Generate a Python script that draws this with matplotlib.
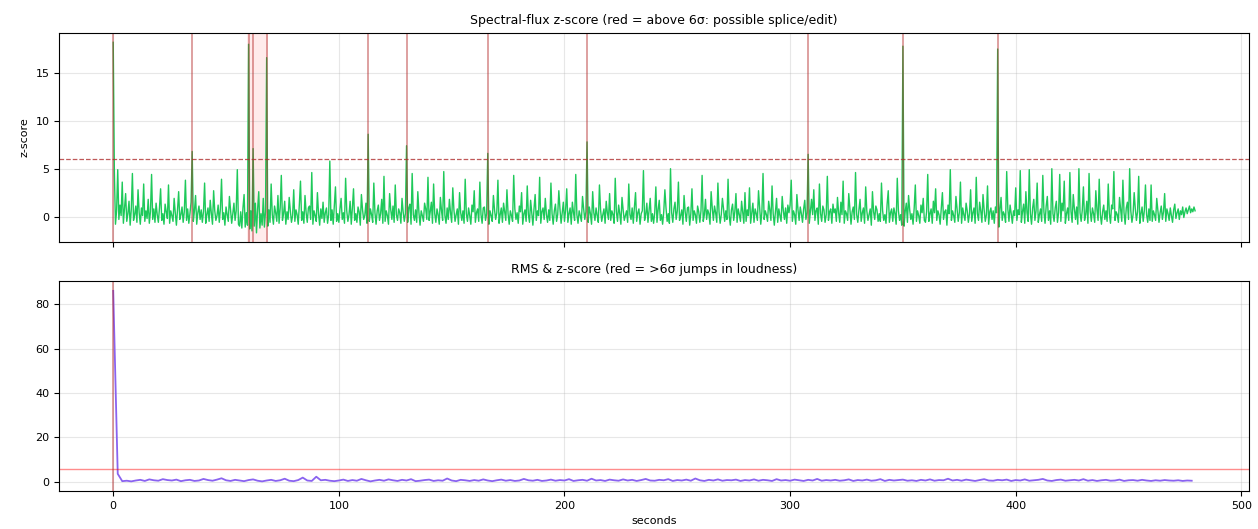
#!/usr/bin/env python3
import numpy as np
import matplotlib
matplotlib.use('Agg')
import matplotlib.pyplot as plt

# spectral-flux z-score, one value every 0.5 s (0..479.5 s), 20 s per row
flux_z = [
    18.2, 4.7, -0.8, 0.6, 4.9, -0.3, 1.2, 0.1, 3.6, -0.7, 0.8, 2.4, -0.5, 0.3, 1.6, -0.9, 0.7, 4.5, -0.4, 0.2,
    1.1, -0.6, 2.8, 0.4, -0.8, 0.9, 0.1, 3.4, -0.5, 0.6, -0.2, 1.8, -0.7, 0.5, 4.4, -0.3, 0.8, -0.6, 1.4, 0.2,
    -0.6, 0.9, 2.9, -0.4, 0.3, -0.8, 1.3, 0.5, -0.2, 3.3, -0.7, 0.6, 0.1, -0.5, 1.9, 0.4, -0.9, 0.7, 2.6, -0.3,
    0.2, 1.0, -0.6, 0.5, 3.8, -0.4, 0.8, -0.7, 0.3, 1.5, 6.8, -0.5, 0.6, 2.2, -0.8, 0.4, 1.1, -0.3, 0.7, -0.6,
    0.5, 3.5, -0.7, 0.2, 0.9, -0.5, 1.7, 0.3, -0.8, 2.7, 0.6, -0.4, 0.1, 1.2, -0.6, 0.8, 3.9, -0.3, 0.4, -0.9,
    1.0, 0.2, -0.5, 2.1, 0.7, -0.7, 0.3, 1.4, -0.4, 0.6, 4.9, -0.8, -1.0, 0.5, -1.2, 0.9, 2.3, -1.1, 0.4, -0.9,
    18.0, -1.3, 0.6, -1.5, 7.1, -1.0, 1.4, -1.7, 0.8, 2.6, -1.2, 0.3, -0.9, 1.9, -1.1, 0.5, 16.6, -1.0, 0.7, -0.6,
    3.4, 0.2, -0.8, 1.1, 0.4, -0.5, 2.2, -0.7, 0.9, 4.3, -0.4, 0.3, 1.6, -0.8, 0.5, -0.3, 2.0, 0.6, -0.6, 0.1,
    2.8, -0.5, 0.7, 0.2, -0.8, 1.3, 3.7, -0.4, 0.5, -0.7, 2.2, 0.4, -0.6, 0.9, 1.1, -0.3, 4.6, -0.8, 0.6, 0.1,
    -0.5, 2.5, 0.3, -0.9, 0.8, -0.2, 1.5, -0.6, 0.4, 0.9, -0.7, 0.2, 5.8, -0.4, 0.7, -0.8, 1.2, 3.1, -0.5, 0.3,
    -0.6, 0.8, 1.9, -0.3, 0.4, -0.7, 4.0, 0.6, -0.5, 0.2, 1.6, -0.8, 0.9, 2.9, -0.4, 0.3, -0.6, 1.0, 0.5, -0.9,
    2.3, 0.7, -0.3, 0.1, 1.4, -0.7, 8.6, -0.5, 0.8, 0.2, -0.6, 3.5, 0.4, -0.8, 0.6, 1.2, -0.4, 0.3, 1.8, -0.7,
    4.2, -0.5, 0.6, 0.1, -0.8, 2.4, 0.7, -0.3, 1.1, -0.6, 3.3, 0.2, -0.4, 0.8, 0.4, -0.7, 1.9, 0.5, -0.5, 0.3,
    7.4, -0.6, 0.9, 1.3, -0.8, 4.5, 0.2, -0.4, 0.7, -0.6, 2.6, 0.4, -0.9, 0.6, 0.1, -0.5, 1.4, 0.8, -0.3, 4.1,
    -0.4, 0.5, 1.5, -0.7, 3.4, 0.3, -0.6, 0.8, 0.2, -0.8, 2.0, 0.6, -0.4, 4.7, 0.1, -0.7, 0.9, -0.3, 1.8, 0.4,
    -0.6, 3.0, 0.7, -0.5, 0.2, 0.8, -0.8, 2.5, 0.4, -0.4, 0.6, -0.7, 3.9, 0.3, -0.5, 0.9, 0.1, -0.8, 1.2, 0.5,
    2.7, -0.6, 0.4, 0.8, -0.5, 3.6, 0.2, -0.7, 0.9, 1.0, -0.4, 0.3, 6.6, -0.8, 0.6, 0.1, -0.5, 2.2, 0.7, -0.3,
    0.4, 3.8, -0.7, 0.2, 0.9, -0.6, 1.4, 0.5, -0.4, 2.8, 0.3, -0.8, 0.6, 0.1, -0.5, 4.3, 0.8, -0.3, 0.4, -0.7,
    1.1, 0.5, 2.5, -0.8, 0.3, 0.7, -0.5, 3.2, 0.2, -0.6, 1.7, 0.4, -0.9, 0.8, 2.3, -0.4, 0.6, 0.1, 4.1, -0.7,
    0.5, 0.9, -0.3, 1.9, 0.2, -0.6, 0.7, -0.4, 3.5, 0.3, -0.8, 0.6, 1.3, -0.5, 0.2, 2.7, 0.8, -0.7, 0.4, 1.5,
    -0.5, 0.7, 2.9, -0.6, 0.3, 0.9, -0.8, 1.5, 0.4, -0.4, 4.4, 0.2, -0.7, 0.6, 0.1, -0.5, 2.1, 0.8, -0.3, 0.5,
    7.8, -0.6, 1.0, 0.3, -0.8, 2.6, 0.4, -0.4, 0.9, 0.1, -0.6, 3.3, 0.7, -0.5, 0.2, 0.8, -0.7, 1.6, 0.4, -0.3,
    2.4, -0.4, 0.6, 0.2, -0.7, 4.0, 0.5, -0.5, 1.2, 0.3, -0.8, 2.0, 0.7, -0.4, 0.1, 0.6, -0.6, 3.4, 0.2, -0.3,
    0.9, -0.7, 1.0, 2.5, -0.5, 0.4, 0.8, -0.8, 0.3, 0.6, 4.8, -0.4, 0.2, 1.4, -0.6, 0.7, 1.9, -0.5, 0.3, -0.7,
    0.4, 3.1, -0.6, 0.7, 1.7, -0.4, 0.2, -0.8, 0.5, 2.8, 0.9, -0.5, 0.3, -0.7, 5.0, 0.4, -0.6, 0.8, 1.5, -0.3,
    0.6, 3.6, -0.4, 0.1, 0.7, -0.8, 2.2, 0.5, -0.5, 0.9, 1.0, -0.9, 0.3, 2.9, -0.4, 0.6, 0.2, -0.7, 1.1, 0.5,
    -0.6, 0.6, 4.3, -0.5, 0.2, 1.8, -0.3, 0.7, 0.3, -0.8, 2.6, 0.9, -0.4, 1.1, 0.4, -0.6, 3.5, 0.5, -0.7, 0.2,
    1.9, 0.8, -0.5, 0.6, -0.3, 3.9, 0.1, -0.9, 0.7, 1.3, -0.4, 0.5, 2.4, -0.6, 0.8, 0.2, -0.5, 1.6, 0.4, -0.7,
    2.5, -0.5, 0.7, 0.1, 3.0, -0.7, 0.4, 1.4, -0.6, 0.8, 0.3, -0.4, 2.7, 0.9, -0.8, 0.5, 4.5, -0.3, 0.6, 0.2,
    -0.5, 1.6, 0.7, -0.4, 3.2, 0.3, -0.9, 0.5, 1.9, -0.6, 0.8, 0.1, -0.5, 2.1, 0.6, -0.3, 0.9, -0.7, 1.2, 0.4,
    1.2, 3.8, -0.5, 0.6, 0.2, -0.8, 2.3, 0.7, -0.4, 1.0, 0.3, -0.6, 0.8, 1.7, -0.3, 0.4, 6.5, -0.7, 0.5, 1.8,
    0.2, 2.8, -0.4, 0.6, 0.9, -0.8, 3.4, 0.3, -0.5, 1.1, 0.7, -0.6, 0.2, 4.2, -0.4, 0.5, 0.8, -0.7, 1.3, 0.4,
    0.8, -0.5, 2.0, 0.4, -0.6, 1.5, 0.2, 3.7, -0.7, 0.6, 0.3, -0.4, 2.4, 0.8, -0.8, 0.5, 1.0, -0.3, 4.6, 0.2,
    -0.6, 0.7, 1.8, -0.5, 0.4, 0.9, -0.7, 3.1, 0.6, -0.4, 0.2, 0.8, -0.9, 2.6, 0.5, -0.3, 1.1, 0.7, -0.5, 0.3,
    -0.5, 3.5, 0.6, -0.4, 0.2, -0.7, 1.3, 2.7, -0.6, 0.4, 0.8, -0.5, 0.9, 0.3, -0.8, 4.0, 0.6, -0.4, 0.2, -0.9,
    17.8, -1.0, 0.5, 1.4, -0.6, 2.2, 0.7, -0.3, 0.3, -0.8, 0.9, 3.3, -0.5, 0.6, 0.1, -0.7, 1.2, 0.4, 1.9, -0.4,
    -0.6, 0.5, 4.4, -0.5, 0.3, 0.8, -0.7, 1.6, 0.4, 2.9, -0.4, 0.6, 0.2, -0.8, 0.9, 2.5, -0.3, 0.5, 0.7, -0.9,
    1.2, 0.3, 4.9, -0.4, 0.6, 0.1, -0.6, 2.1, 0.8, -0.5, 0.4, 3.6, -0.7, 0.9, 0.2, -0.4, 1.4, 0.6, -0.6, 0.3,
    2.8, -0.5, 0.4, 0.9, -0.7, 4.1, 0.3, -0.4, 1.5, 0.6, -0.6, 2.3, 0.7, -0.5, 0.2, 3.2, -0.8, 0.5, 0.9, -0.3,
    0.6, -0.7, 1.0, 0.4, 17.5, -1.1, 0.7, 2.0, -0.4, 0.5, 0.2, -0.6, 4.7, 0.8, -0.5, 1.2, 0.3, -0.7, 0.6, 0.1,
    3.0, -0.4, 0.7, 0.2, 4.8, -0.6, 0.5, 1.3, -0.7, 2.6, 0.4, -0.5, 4.9, 0.3, -0.8, 0.9, 1.8, -0.4, 0.6, 3.5,
    -0.6, 0.2, 0.8, -0.5, 4.3, 0.5, -0.7, 1.1, 2.1, -0.4, 0.6, -0.8, 5.0, 0.3, -0.5, 0.9, 1.6, -0.6, 0.4, 4.4,
    -0.5, 1.4, 0.6, 3.7, -0.7, 0.3, 0.9, -0.4, 4.6, 0.5, -0.6, 2.3, 0.8, -0.3, 1.0, -0.8, 5.0, 0.4, -0.5, 0.7,
    3.1, -0.4, 0.2, 1.6, -0.7, 4.5, 0.6, -0.5, 0.9, 0.3, -0.6, 2.7, 0.7, -0.4, 3.9, 0.2, -0.8, 0.5, 1.2, -0.3,
    0.6, -0.5, 3.4, 0.3, -0.7, 1.2, 0.8, 4.7, -0.4, 0.5, 0.2, -0.6, 2.0, 0.7, -0.5, 3.8, 0.4, -0.8, 0.9, 1.5,
    -0.3, 5.0, 0.6, -0.6, 0.2, 2.5, 0.8, -0.4, 0.5, 4.2, -0.7, 0.3, 1.0, -0.5, 0.6, 3.3, 0.2, -0.6, 0.8, -0.4,
    3.3, -0.5, 0.6, 0.2, -0.4, 1.9, 0.7, -0.6, 0.4, 1.1, -0.3, 0.5, 2.4, -0.5, 0.8, 0.3, -0.4, 0.9, 0.1, -0.6,
    0.7, 1.3, -0.2, 0.4, 0.8, -0.3, 0.6, 0.2, 1.0, -0.1, 0.5, 0.9, 0.3, 0.7, 1.1, 0.4, 0.8, 0.5, 1.0, 0.6,
]

# RMS z-score, one value every 2 s (0..478 s)
rms_z = [
    86.0, 3.6, 0.3, 0.5, 0.2, 0.6, 0.9, 0.4, 1.1, 0.7, 0.5, 1.2, 0.8, 0.6, 1.0, 0.3, 0.7, 0.9, 0.4, 0.6,
    1.3, 0.8, 0.5, 1.0, 1.6, 0.7, 0.4, 0.9, 0.6, 0.3, 0.8, 1.1, 0.5, 0.2, 0.6, 0.9, 0.4, 0.7, 1.4, 0.5,
    0.3, 0.8, 1.9, 0.6, 0.4, 2.3, 0.7, 0.9, 0.5, 0.3, 0.6, 1.0, 0.4, 0.8, 0.5, 1.3, 0.7, 0.2, 0.6, 0.9,
    0.5, 1.1, 0.7, 0.4, 0.9, 0.6, 1.2, 0.3, 0.5, 0.8, 1.0, 0.4, 0.7, 0.5, 1.5, 0.6, 0.3, 0.9, 0.7, 0.4,
    0.8, 0.5, 1.1, 0.6, 0.3, 0.7, 1.0, 0.5, 0.8, 0.4, 0.6, 1.3, 0.7, 0.5, 0.9, 0.4, 0.6, 1.0, 0.5, 0.8,
    0.6, 1.2, 0.4, 0.7, 0.9, 0.5, 1.4, 0.6, 0.8, 0.4, 1.0, 0.7, 0.5, 1.1, 0.6, 0.9, 0.4, 0.8, 1.3, 0.6,
    0.5, 0.9, 0.7, 1.2, 0.4, 0.8, 0.6, 1.0, 0.5, 1.5, 0.7, 0.4, 0.9, 0.6, 1.1, 0.5, 0.8, 0.7, 1.0, 0.4,
    0.8, 0.6, 1.1, 0.5, 0.9, 0.7, 0.4, 1.2, 0.6, 0.8, 0.5, 1.0, 0.7, 0.4, 0.9, 0.6, 1.3, 0.5, 0.8, 0.6,
    0.9, 0.5, 0.7, 1.1, 0.4, 0.8, 0.6, 1.0, 0.5, 0.7, 1.2, 0.4, 0.9, 0.6, 0.8, 1.0, 0.5, 0.7, 0.4, 0.9,
    0.6, 1.1, 0.5, 0.8, 0.7, 1.4, 0.6, 0.9, 0.5, 1.0, 0.7, 0.4, 0.8, 1.2, 0.6, 0.5, 0.9, 0.7, 1.0, 0.4,
    0.8, 0.6, 1.1, 0.5, 0.7, 0.9, 1.3, 0.6, 0.4, 0.8, 1.0, 0.5, 0.7, 0.9, 0.6, 1.2, 0.5, 0.8, 0.4, 0.7,
    0.9, 0.5, 0.6, 1.0, 0.4, 0.7, 0.8, 0.5, 0.9, 0.6, 0.4, 0.7, 0.5, 0.8, 0.6, 0.5, 0.7, 0.4, 0.6, 0.5,
]

threshold = 6
flagged_spans = [(59.5, 68.5)]

t_flux = np.arange(len(flux_z)) * 0.5
t_rms = np.arange(len(rms_z)) * 2
flux = np.array(flux_z)
rms = np.array(rms_z)

fig, (ax1, ax2) = plt.subplots(2, 1, figsize=(12.58, 5.29), dpi=100, sharex=True)
fig.subplots_adjust(left=0.047, right=0.993, top=0.938, bottom=0.072, hspace=0.186)

# top: spectral flux
ax1.plot(t_flux, flux, color='#1ec95a', lw=1.0)
ax1.axhline(threshold, color='#b03030', ls='--', lw=0.9, alpha=0.8)
for t in t_flux[flux > threshold]:
    ax1.axvline(t, color='#b22222', lw=1.2, alpha=0.5)
for a, b in flagged_spans:
    ax1.axvspan(a, b, color='red', alpha=0.08, lw=0)
ax1.set_title('Spectral-flux z-score (red = above 6σ: possible splice/edit)', fontsize=9)
ax1.set_ylabel('z-score', fontsize=8)
ax1.set_yticks([0, 5, 10, 15])
ax1.grid(True, alpha=0.3)

# bottom: RMS
ax2.plot(t_rms, rms, color='#8a63f0', lw=1.3)
ax2.axhline(threshold, color='red', lw=1.0, alpha=0.45)
for t in t_rms[rms > threshold]:
    ax2.axvline(t, color='#b22222', lw=1.2, alpha=0.5)
ax2.set_title('RMS & z-score (red = >6σ jumps in loudness)', fontsize=9)
ax2.set_xlabel('seconds', fontsize=8)
ax2.set_yticks([0, 20, 40, 60, 80])
ax2.grid(True, alpha=0.3)

for ax in (ax1, ax2):
    ax.tick_params(labelsize=8)

plt.savefig('out.png')
